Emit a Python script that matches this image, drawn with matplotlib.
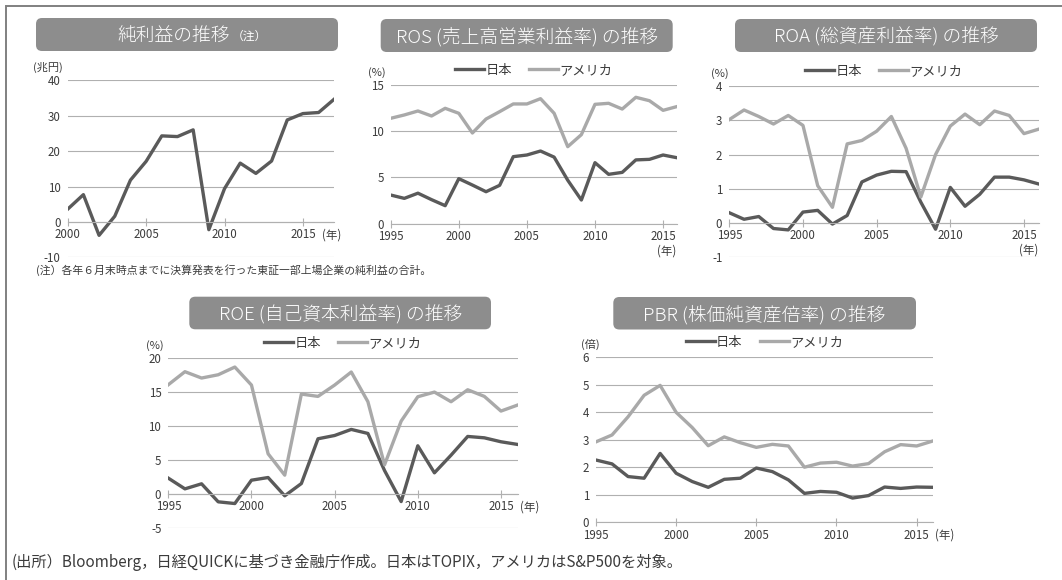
import matplotlib
matplotlib.use("Agg")
import matplotlib.pyplot as plt
from matplotlib.patches import FancyBboxPatch
from matplotlib.lines import Line2D
import matplotlib.transforms as mtransforms

plt.rcParams['font.family'] = ['Noto Sans CJK JP', 'DejaVu Sans']
plt.rcParams['axes.unicode_minus'] = False

W, H = 1062, 580

# ---- data ----
years_np = list(range(2000, 2018))
net_profit = [3.6, 7.7, -3.8, 1.6, 11.8, 17.1, 24.3, 24.1, 26.0, -2.2,
              9.4, 16.6, 13.7, 17.2, 28.8, 30.6, 30.9, 34.7]

years = list(range(1995, 2017))
ros_jp = [3.1, 2.74, 3.3, 2.6, 1.95, 4.87, 4.18, 3.46, 4.15, 7.25, 7.43,
          7.86, 7.2, 4.7, 2.56, 6.6, 5.34, 5.55, 6.9, 6.96, 7.43, 7.14]
ros_us = [11.4, 11.76, 12.19, 11.65, 12.48, 11.94, 9.81, 11.32, 12.12, 12.95, 12.95,
          13.52, 11.94, 8.33, 9.63, 12.91, 13.02, 12.4, 13.67, 13.3, 12.26, 12.66]
roa_jp = [0.30, 0.11, 0.19, -0.16, -0.20, 0.32, 0.37, -0.03, 0.22, 1.20, 1.40,
          1.51, 1.50, 0.61, -0.18, 1.04, 0.49, 0.84, 1.34, 1.34, 1.26, 1.14]
roa_us = [3.02, 3.30, 3.11, 2.89, 3.14, 2.85, 1.09, 0.46, 2.31, 2.41, 2.68,
          3.11, 2.18, 0.76, 2.00, 2.83, 3.18, 2.87, 3.27, 3.14, 2.61, 2.74]
roe_jp = [2.35, 0.78, 1.52, -1.12, -1.37, 2.05, 2.44, -0.24, 1.56, 8.12, 8.6,
          9.49, 8.9, 3.47, -1.08, 7.09, 3.13, 5.72, 8.46, 8.26, 7.68, 7.29]
roe_us = [16.04, 17.95, 17.02, 17.5, 18.63, 15.99, 5.92, 2.79, 14.67, 14.33, 15.99,
          17.9, 13.55, 4.3, 10.71, 14.28, 14.96, 13.55, 15.3, 14.33, 12.18, 13.06]
pbr_jp = [2.26, 2.12, 1.66, 1.6, 2.5, 1.78, 1.48, 1.27, 1.56, 1.6, 1.97,
          1.84, 1.54, 1.05, 1.12, 1.09, 0.88, 0.97, 1.28, 1.23, 1.28, 1.27]
pbr_us = [2.92, 3.17, 3.83, 4.61, 4.97, 3.99, 3.44, 2.78, 3.1, 2.89, 2.72,
          2.83, 2.77, 2.0, 2.15, 2.18, 2.04, 2.13, 2.56, 2.82, 2.77, 2.95]

c_jp = '#5a5a5a'
c_us = '#a9a9a9'
c_grid = '#b0b0b0'
c_box = '#8d8d8d'
c_text = '#3c3c3c'
fs_tick = 8.3

fig = plt.figure(figsize=(W / 100, H / 100), dpi=100)

# background layer in pixel coordinates (frame, title boxes, notes)
bg = fig.add_axes([0, 0, 1, 1])
bg.set_xlim(0, W)
bg.set_ylim(H, 0)
bg.axis('off')
bg.plot([6, 6, W], [H, 6, 6], color='#808080', lw=1.4, solid_joinstyle='miter')


def title_box(x0, y0, x1, y1, text):
    bg.add_patch(FancyBboxPatch((x0, y0), x1 - x0, y1 - y0,
                                boxstyle='round,pad=0,rounding_size=6',
                                fc=c_box, ec='none'))
    if text:
        bg.text((x0 + x1) / 2, (y0 + y1) / 2 + 1, text, color='white',
                fontsize=13.5, fontweight='light', ha='center', va='center')


def make_axes(x0, x1, ytop, ybot):
    return fig.add_axes([x0 / W, 1 - ybot / H, (x1 - x0) / W, (ybot - ytop) / H])


def style(ax, xlim, ylim, yticks, xticks):
    ax.set_facecolor('none')
    ax.set_xlim(*xlim)
    ax.set_ylim(*ylim)
    ax.set_yticks(yticks)
    ax.set_xticks(xticks)
    for s in ['top', 'right', 'left']:
        ax.spines[s].set_visible(False)
    ax.spines['bottom'].set_position(('data', 0))
    ax.spines['bottom'].set_color(c_grid)
    ax.spines['bottom'].set_linewidth(0.8)
    ax.grid(axis='y', color=c_grid, lw=0.8)
    ax.set_axisbelow(True)
    ax.tick_params(axis='y', length=0, pad=5, labelsize=fs_tick, labelcolor=c_text)
    ax.tick_params(axis='x', direction='inout', length=5.5, width=0.8,
                   color=c_grid, pad=1.8, labelsize=fs_tick, labelcolor=c_text)


def nen_right(ax, xval):
    tr = mtransforms.blended_transform_factory(ax.transData, ax.transData)
    ax.annotate('(年)', xy=(xval, 0), xycoords=tr, xytext=(13.5, -4.6),
                textcoords='offset points', ha='left', va='top',
                fontsize=fs_tick, color=c_text)


def nen_below(ax):
    tr = mtransforms.blended_transform_factory(ax.transAxes, ax.transData)
    ax.annotate('(年)', xy=(1.0, 0), xycoords=tr, xytext=(0, -15),
                textcoords='offset points', ha='right', va='top',
                fontsize=fs_tick, color=c_text)


def legend(ax):
    handles = [Line2D([], [], color=c_jp, lw=2.4), Line2D([], [], color=c_us, lw=2.4)]
    ax.legend(handles, ['日本', 'アメリカ'], loc='lower center',
              bbox_to_anchor=(0.5, 1.0), ncol=2, frameon=False, fontsize=9.5,
              handlelength=2.2, handletextpad=0.1, columnspacing=1.3,
              borderaxespad=0.2, labelcolor=c_text)


def unit(ax, text, dx=-4):
    ax.annotate(text, xy=(0, 1), xycoords='axes fraction', xytext=(dx, 5),
                textcoords='offset points', ha='center', va='bottom',
                fontsize=8, color=c_text)


# ---- panel 1: net profit ----
title_box(36, 18, 338, 51, None)
bg.text(230, 35.5, '純利益の推移', color='white', fontsize=13.5, fontweight='light',
        ha='right', va='center')
bg.text(232, 36.5, '（注）', color='white', fontsize=8.5, ha='left', va='center')
ax1 = make_axes(67.7, 334.3, 80.3, 257.3)
ax1.plot(years_np, net_profit, color=c_jp, lw=2.4)
style(ax1, (2000, 2017), (-10, 40), [-10, 0, 10, 20, 30, 40], [2000, 2005, 2010, 2015])
nen_right(ax1, 2015)
unit(ax1, '(兆円)', dx=-14)
bg.text(36, 270, '(注）各年６月末時点までに決算発表を行った東証一部上場企業の純利益の合計。',
        fontsize=7.8, color=c_text, ha='left', va='center')

# ---- panel 2: ROS ----
title_box(380.7, 19, 672.7, 52, 'ROS (売上高営業利益率) の推移')
ax2 = make_axes(390.7, 676.7, 85, 223.7)
ax2.plot(years, ros_jp, color=c_jp, lw=2.4)
ax2.plot(years, ros_us, color=c_us, lw=2.4)
style(ax2, (1995, 2016), (0, 15), [0, 5, 10, 15], [1995, 2000, 2005, 2010, 2015])
legend(ax2)
unit(ax2, '(%)', dx=-10)
nen_below(ax2)

# ---- panel 3: ROA ----
title_box(735, 19, 1037, 52, 'ROA (総資産利益率) の推移')
ax3 = make_axes(729.3, 1038.7, 86, 257.3)
ax3.plot(years, roa_jp, color=c_jp, lw=2.4)
ax3.plot(years, roa_us, color=c_us, lw=2.4)
style(ax3, (1995, 2016), (-1, 4), [-1, 0, 1, 2, 3, 4], [1995, 2000, 2005, 2010, 2015])
legend(ax3)
unit(ax3, '(%)', dx=-7)
nen_below(ax3)

# ---- panel 4: ROE ----
title_box(189.3, 296.7, 491, 329.3, 'ROE (自己資本利益率) の推移')
ax4 = make_axes(168.3, 517.6, 357.7, 528.3)
ax4.plot(years, roe_jp, color=c_jp, lw=2.4)
ax4.plot(years, roe_us, color=c_us, lw=2.4)
style(ax4, (1995, 2016), (-5, 20), [-5, 0, 5, 10, 15, 20], [1995, 2000, 2005, 2010, 2015])
legend(ax4)
unit(ax4, '(%)', dx=-10)
nen_right(ax4, 2015)

# ---- panel 5: PBR ----
title_box(613.3, 297, 916, 329.5, 'PBR (株価純資産倍率) の推移')
ax5 = make_axes(596, 932.7, 357, 522.3)
ax5.plot(years, pbr_jp, color=c_jp, lw=2.4)
ax5.plot(years, pbr_us, color=c_us, lw=2.4)
style(ax5, (1995, 2016), (0, 6), [0, 1, 2, 3, 4, 5, 6], [1995, 2000, 2005, 2010, 2015])
legend(ax5)
unit(ax5, '(倍)', dx=-4)
nen_right(ax5, 2015)

bg.text(12, 562, '(出所）Bloomberg，日経QUICKに基づき金融庁作成。日本はTOPIX，アメリカはS&P500を対象。',
        fontsize=11, color=c_text, ha='left', va='center')

fig.savefig('out.png', dpi=100)
